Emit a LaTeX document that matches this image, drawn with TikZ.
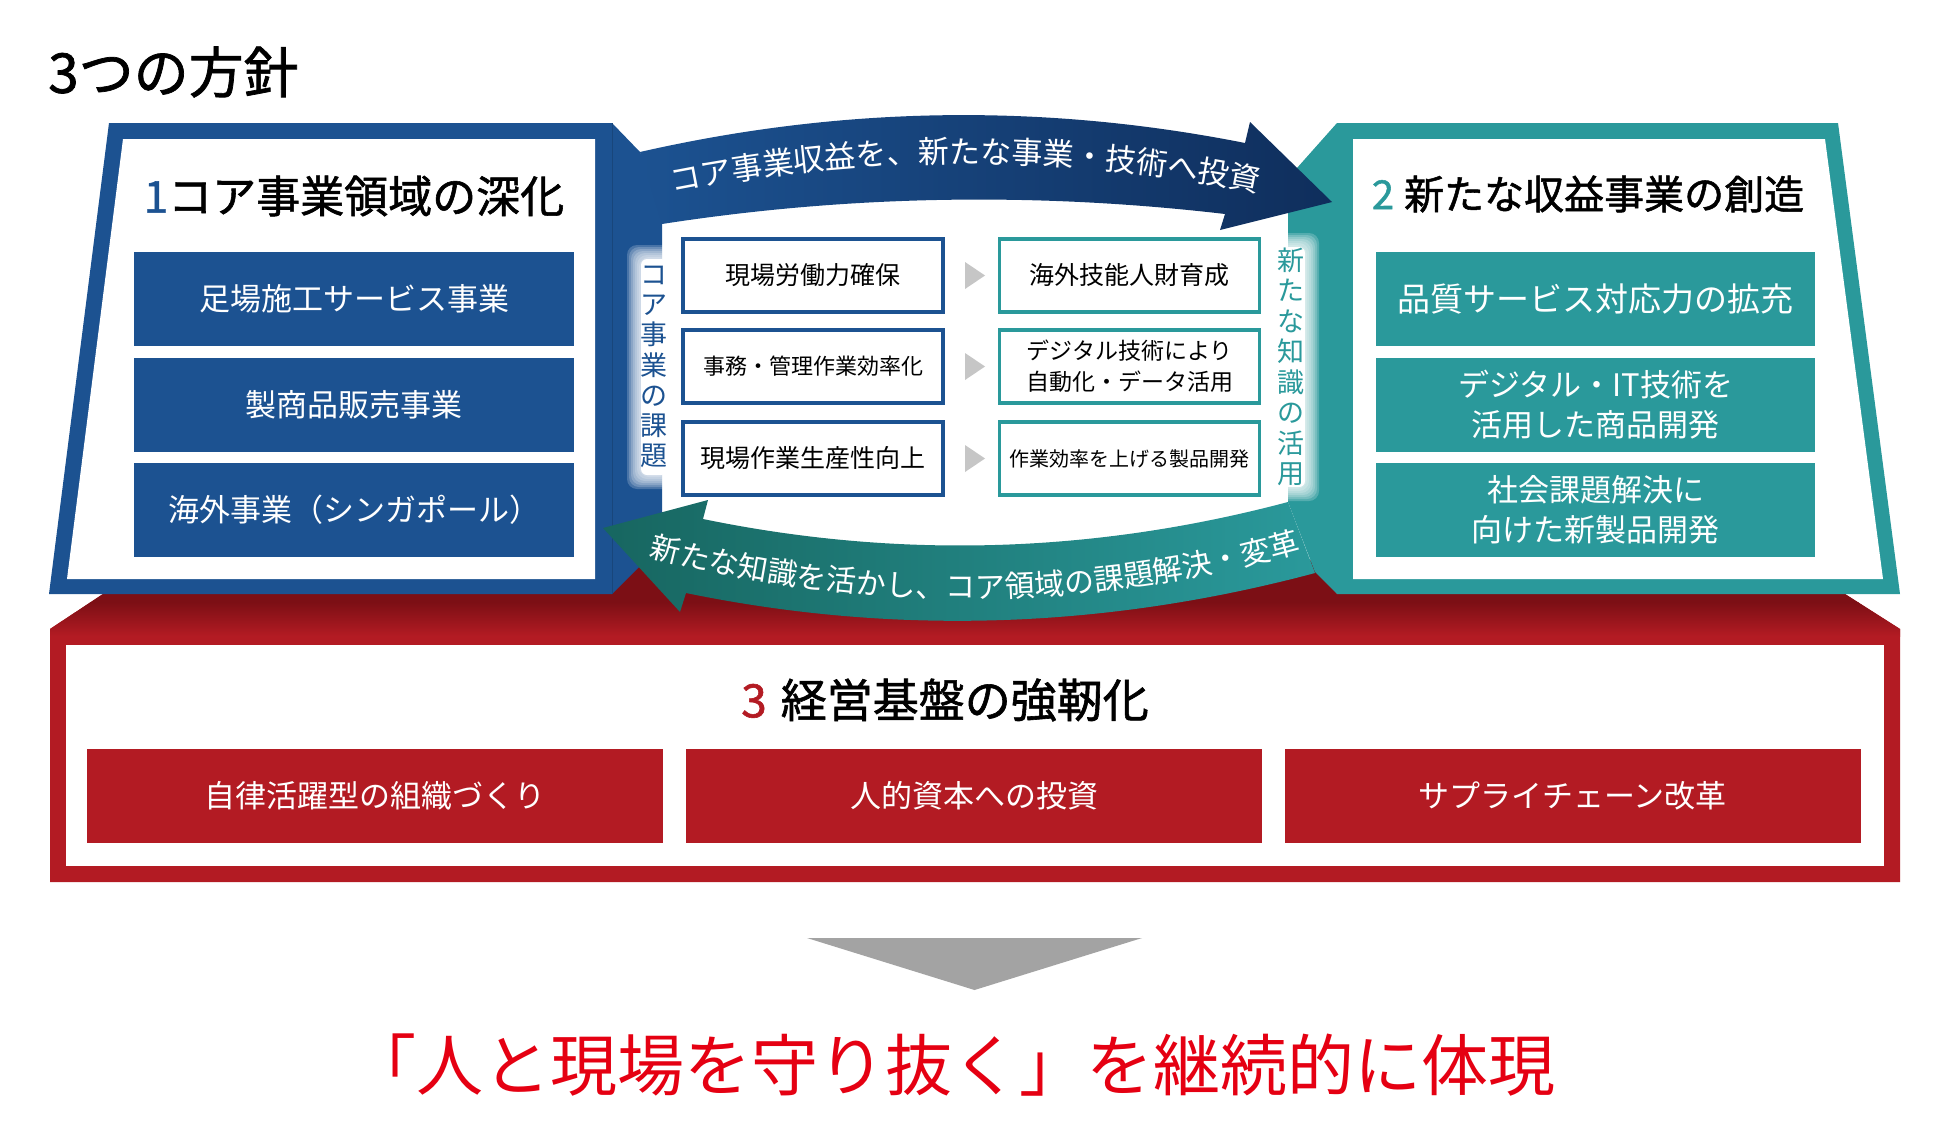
\documentclass[tikz,border=0pt]{standalone}
\usepackage{fontspec}
\setmainfont{Noto Sans CJK JP}
\newfontfamily\jpb[FakeBold=1.3]{Noto Sans CJK JP}
\usetikzlibrary{decorations.text}
\definecolor{pblue}{HTML}{1C5291}
\definecolor{navy}{HTML}{0F2E5C}
\definecolor{pteal}{HTML}{2A999B}
\definecolor{dteal}{HTML}{176660}
\definecolor{pred}{HTML}{B31B23}
\definecolor{dred}{HTML}{7C0F15}
\definecolor{tgray}{HTML}{C6C6C6}
\definecolor{bgray}{HTML}{A3A3A3}
\definecolor{fred}{HTML}{E50012}
\newcommand\fs[2]{\fontsize{#1}{#2}\selectfont}
\newcommand\arrtxt{\fontsize{31}{31}\selectfont}
\newcommand\arrtxtb{\fontsize{30}{30}\selectfont}
\newcommand\mkglow[4]{%
  \foreach \k in {0,...,7}{\fill[white,opacity=0.2,rounded corners=10pt] ({#1-#3-2*\k},{#2-#4-2*\k}) rectangle ({#1+#3+2*\k},{#2+#4+2*\k});}
  \fill[white,rounded corners=6pt] ({#1-#3},{#2-#4}) rectangle ({#1+#3},{#2+#4});}
\begin{document}
\begin{tikzpicture}[x=1pt,y=-1pt,
  cbox/.style={draw, line width=3.5pt, fill=white, minimum width=260pt, minimum height=73pt, inner sep=0pt, align=center, text=black},
  lbox/.style={cbox, draw=pblue},
  rbox/.style={cbox, draw=pteal},
  brow/.style={fill=pblue, minimum width=440pt, minimum height=94pt, inner sep=0pt, text=white, align=center, font=\fs{31}{40}},
  trow/.style={brow, fill=pteal, minimum width=439pt},
  rrow/.style={brow, fill=pred, minimum width=576pt, font=\fs{31}{40}},
  vtext/.style={inner sep=0pt, align=center},
]
\useasboundingbox (0,0) rectangle (1950,1140);
\fill[white] (0,0) rectangle (1950,1140);

% ---- red base ----
\fill[pred] (103,594) -- (600,594) -- (640,560) -- (1310,560) -- (1337,594) -- (1845,594) -- (1900,629) -- (1900,882) -- (50,882) -- (50,629) -- cycle;
\begin{scope}
  \clip (103,594) -- (600,594) -- (640,560) -- (1310,560) -- (1337,594) -- (1845,594) -- (1900,629) -- (1900,882) -- (50,882) -- (50,629) -- cycle;
  \fill[dred] (0,550) rectangle (1950,603);
  \shade[top color=dred, bottom color=pred] (0,602) rectangle (1950,636);
\end{scope}
\fill[white] (66,645) rectangle (1884,866);
\node[inner sep=0pt] (h3) at (945,700) {\jpb\fs{46}{46}\textcolor{pred}{3}\hspace{14pt}経営基盤の強靭化};
\node[rrow] (c1) at (375,796) {自律活躍型の組織づくり};
\node[rrow] (c2) at (974,796) {人的資本への投資};
\node[rrow] (c3) at (1572.5,796) {サプライチェーン改革};

% ---- side panels ----
\fill[pblue] (109,123) -- (612,123) -- (640,152) -- (662,200) -- (662,530) -- (640,566) -- (612,594) -- (49,594) -- cycle;
\draw[line width=0.8pt, color=pblue!85!black] (612,123) -- (612,594);
\fill[pteal] (1337,123) -- (1838,123) -- (1900,594) -- (1337,594) -- (1315,572) -- (1288,502) -- (1288,180) -- (1297,168) -- cycle;
\fill[white] (123,139) -- (595,139) -- (595,579) -- (67,579) -- cycle;
\fill[white] (1353,139) -- (1825,139) -- (1883,579) -- (1353,579) -- cycle;

\node[inner sep=0pt] (h1) at (354,196) {\jpb\fs{44}{44}\textcolor{pblue}{1}コア事業領域の深化};
\node[inner sep=0pt] (h2) at (1588,194) {\jpb\fs{40}{40}\textcolor{pteal}{2}\hspace{10pt}新たな収益事業の創造};

\node[brow] (a1) at (354,299) {足場施工サービス事業};
\node[brow] (a2) at (354,404.5) {製商品販売事業};
\node[brow] (a3) at (354,510) {海外事業（シンガポール）};
\node[trow] (b1) at (1595.5,299) {\fs{33}{40}品質サービス対応力の拡充};
\node[trow] (b2) at (1595.5,404.5) {デジタル・IT技術を\\活用した商品開発};
\node[trow] (b3) at (1595.5,510) {社会課題解決に\\向けた新製品開発};

% ---- top arrow ----
\path[left color=pblue, right color=navy] (640,152) .. controls (842,106) and (1043,103) .. (1245,143) -- (1250,122) -- (1332,202) -- (1220,230) -- (1225,214) .. controls (1037,192) and (849,195) .. (662,224) -- cycle;
\path[decorate, decoration={text along path, text={|\arrtxt|コア事業収益を、新たな事業・技術へ投資}, text align=center, text color=white}] (655,196) .. controls (862,152) and (1068,152) .. (1275,196);

% ---- bottom arrow ----
\path[left color=dteal, right color=pteal] (603,528) -- (708,500) -- (703,519) .. controls (897,559) and (1092,554) .. (1288,502) -- (1315,573) .. controls (1105,629) and (895,636) .. (686,593) -- (680,612) -- cycle;
\path[decorate, decoration={text along path, text={|\arrtxtb|新たな知識を活かし、コア領域の課題解決・変革}, text align=center, text color=white}] (650,557) .. controls (867,613) and (1083,612) .. (1300,552);

% ---- vertical labels with glow ----
\mkglow{654}{367}{13}{108}
\mkglow{1291}{367}{14}{120}
\node[vtext, text=pblue, font=\fs{27}{30.2}] (vl) at (654,367) {コ\\ア\\事\\業\\の\\課\\題};
\node[vtext, text=pteal, font=\fs{27}{30.5}] (vr) at (1291,367) {新\\た\\な\\知\\識\\の\\活\\用};

% ---- center boxes ----
\node[lbox, font=\fs{25}{32}] (l1) at (813,275.5) {現場労働力確保};
\node[lbox, font=\fs{22}{32}] (l2) at (813,366.5) {事務・管理作業効率化};
\node[lbox, font=\fs{25}{32}] (l3) at (813,458.5) {現場作業生産性向上};
\node[rbox, font=\fs{25}{32}] (r1) at (1129.5,275.5) {海外技能人財育成};
\node[rbox, font=\fs{23}{31}] (r2) at (1129.5,366.5) {デジタル技術により\\自動化・データ活用};
\node[rbox, font=\fs{20}{32}] (r3) at (1129.5,458.5) {作業効率を上げる製品開発};
\fill[tgray] (965,262) -- (985,275.5) -- (965,289) -- cycle;
\fill[tgray] (965,353) -- (985,366.5) -- (965,380) -- cycle;
\fill[tgray] (965,445) -- (985,458.5) -- (965,472) -- cycle;

% ---- title and conclusion ----
\node[anchor=west, inner sep=0pt] (title) at (48,72) {\jpb\fs{55}{55}3つの方針};
\fill[bgray] (807,938) -- (1142,938) -- (974.5,990) -- cycle;
\node[inner sep=0pt, text=fred] (final) at (952,1065) {\fs{67}{67}「人と現場を守り抜く」を継続的に体現};
\end{tikzpicture}
\end{document}
